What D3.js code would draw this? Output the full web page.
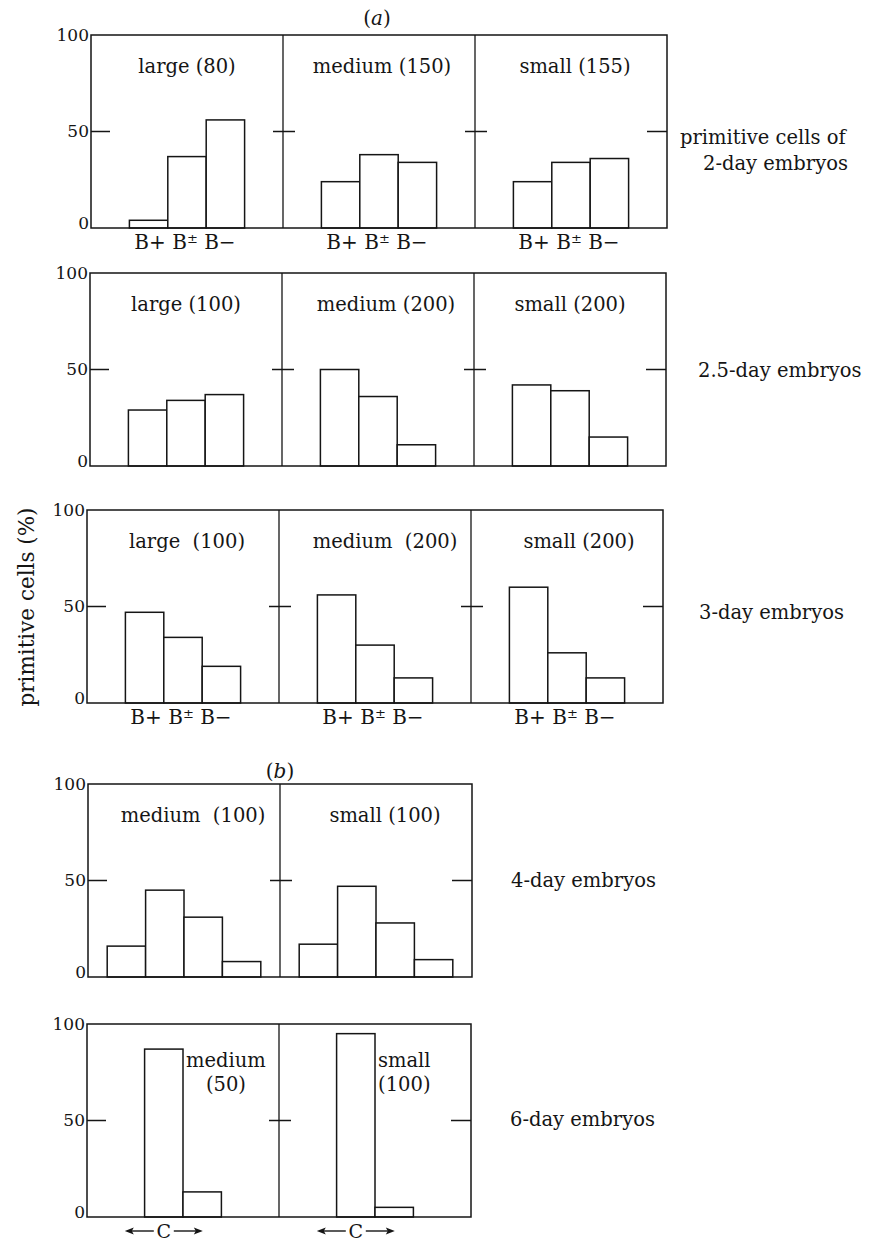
<!DOCTYPE html>
<html>
<head>
<meta charset="utf-8" />
<title>primitive cells</title>
<script src="https://cdn.jsdelivr.net/npm/d3@7"></script>
<style>
body { margin: 0; background: #fff; }
svg text { font-family: "DejaVu Serif", "Liberation Serif", serif; fill: #151515; }
</style>
</head>
<body>
<svg id="chart"></svg>
<script>
/* values: % of primitive cells in each class */
var classesA = ["B+", "B±", "B−"];
var classesB = ["c1", "c2", "c3", "c4"];   // (b): four classes, C marks the middle pair

var day2   = [[4, 37, 56], [24, 38, 34], [24, 34, 36]];
var day2_5 = [[29, 34, 37], [50, 36, 11], [42, 39, 15]];
var day3   = [[47, 34, 19], [56, 30, 13], [60, 26, 13]];
var day4   = [[16, 45, 31, 8], [17, 47, 28, 9]];
var day6   = [[0, 87, 13, 0], [0, 95, 5, 0]];

var names2   = ["large (80)", "medium (150)", "small (155)"];
var names2_5 = ["large (100)", "medium (200)", "small (200)"];
var names3   = ["large  (100)", "medium  (200)", "small (200)"];
var names4   = ["medium  (100)", "small (100)"];
var names6   = [["medium", "(50)"], ["small", "(100)"]];

var rowTitles = [["primitive cells of", "2-day embryos"], ["2.5-day embryos"], ["3-day embryos"], ["4-day embryos"], ["6-day embryos"]];
var yTicks = [0, 50, 100];
var yTitle = "primitive cells (%)";

/* layout */
var width = 873, height = 1241;
var pw = 192, ph = 193;
var fs = 19.5;

var rows = [
	{ data: day2,   names: names2,   cats: classesA, title: rowTitles[0], top: 35,   left: 91, tx: [680, 703], ty: [144, 170], nameDx: [0, 3, 4],  under: "cats" },
	{ data: day2_5, names: names2_5, cats: classesA, title: rowTitles[1], top: 273,  left: 90, tx: [698],      ty: [377],      nameDx: [0, 8, 0],  under: null },
	{ data: day3,   names: names3,   cats: classesA, title: rowTitles[2], top: 510,  left: 87, tx: [699],      ty: [619],      nameDx: [4, 10, 12], under: "cats" },
	{ data: day4,   names: names4,   cats: classesB, title: rowTitles[3], top: 784,  left: 88, tx: [511],      ty: [887],      nameDx: [9, 9],     under: null },
	{ data: day6,   names: names6,   cats: classesB, title: rowTitles[4], top: 1024, left: 87, tx: [510],      ty: [1126],     nameDx: [0, 0],     under: "C" }
];

var svg = d3.select("#chart")
	.attr("width", width)
	.attr("height", height)
	.style("background", "#fff");

var y = d3.scaleLinear().domain([0, 100]).range([ph, 0]);

function arrow(g, x1, x2, yy) {
	var dir = x2 > x1 ? 1 : -1;
	g.append("line").attr("x1", x1).attr("x2", x2 - dir * 6).attr("y1", yy).attr("y2", yy)
		.attr("stroke", "#151515").attr("stroke-width", 1.4);
	g.append("path")
		.attr("d", "M" + x2 + "," + yy + "L" + (x2 - dir * 9) + "," + (yy - 3.5) + "L" + (x2 - dir * 7) + "," + yy + "L" + (x2 - dir * 9) + "," + (yy + 3.5) + "Z")
		.attr("fill", "#151515");
}

rows.forEach(function(row) {
	var n = row.data.length;
	var g = svg.append("g").attr("transform", "translate(" + row.left + "," + row.top + ")");

	var x = d3.scaleBand()
		.domain(row.cats)
		.range([0, pw])
		.paddingInner(0)
		.paddingOuter(row.cats.length === 3 ? 1 : 0.5);
	var bw = x.bandwidth();

	row.data.forEach(function(vals, p) {
		var pg = g.append("g").attr("transform", "translate(" + (p * pw) + ",0)");

		pg.selectAll("rect.bar")
			.data(vals.map(function(v, i) { return { c: row.cats[i], v: v }; }).filter(function(d) { return d.v > 0; }))
			.enter().append("rect")
			.attr("class", "bar")
			.attr("x", function(d) { return x(d.c); })
			.attr("y", function(d) { return y(d.v); })
			.attr("width", bw)
			.attr("height", function(d) { return ph - y(d.v); })
			.attr("fill", "#fff")
			.attr("stroke", "#151515")
			.attr("stroke-width", 1.5);

		// panel name
		var nm = row.names[p];
		if (typeof nm === "string") {
			pg.append("text")
				.attr("x", pw / 2 + row.nameDx[p])
				.attr("y", 38)
				.attr("text-anchor", "middle")
				.style("font-size", fs + "px")
				.style("white-space", "pre")
				.text(nm);
		} else {
			var x0 = x(row.cats[1]) + bw + 3;
			var t1 = pg.append("text").attr("x", x0).attr("y", 43).style("font-size", fs + "px").text(nm[0]);
			var w1 = t1.node().getComputedTextLength();
			pg.append("text").attr("x", x0 + w1 / 2).attr("y", 67).attr("text-anchor", "middle").style("font-size", fs + "px").text(nm[1]);
		}

		// labels under the bars
		if (row.under === "cats") {
			var lab = pg.append("text")
				.attr("x", x(row.cats[1]) + bw / 2 - 2)
				.attr("y", ph + 21)
				.attr("text-anchor", "middle")
				.style("font-size", "20px");
			var lift = 0;
			row.cats.forEach(function(c, i) {
				lab.append("tspan").attr("dy", -lift).text((i ? " " : "") + c[0]);
				lift = 0;
				if (c[1] === "±") {
					lab.append("tspan").attr("dy", -6).style("font-size", "13px").text("±");
					lift = -6;
				} else {
					lab.append("tspan").text(c.slice(1));
				}
			});
		} else if (row.under === "C") {
			var cx = x(row.cats[1]) + bw / 2;
			pg.append("text")
				.attr("x", cx)
				.attr("y", ph + 21)
				.attr("text-anchor", "middle")
				.style("font-size", "19px")
				.text("C");
			arrow(pg, cx - 10, cx - 39, ph + 14);
			arrow(pg, cx + 10, cx + 39, ph + 14);
		}
	});

	// frame and dividers
	var fw = n * pw;
	g.append("rect")
		.attr("width", fw).attr("height", ph)
		.attr("fill", "none").attr("stroke", "#151515").attr("stroke-width", 1.5);
	for (var k = 1; k < n; k++) {
		g.append("line")
			.attr("x1", k * pw).attr("x2", k * pw)
			.attr("y1", 0).attr("y2", ph)
			.attr("stroke", "#151515").attr("stroke-width", 1.3);
	}

	// 50 % ticks: inward on the outer edges, across the dividers
	var t50 = y(50);
	var tick = function(a, b) {
		g.append("line").attr("x1", a).attr("x2", b).attr("y1", t50).attr("y2", t50)
			.attr("stroke", "#151515").attr("stroke-width", 1.5);
	};
	tick(0, 19);
	for (k = 1; k < n; k++) tick(k * pw - 10, k * pw + 12);
	tick(fw - 20, fw);

	// y axis numbers
	var ax = g.append("g").call(d3.axisLeft(y).tickValues(yTicks).tickSize(0).tickPadding(2));
	ax.select(".domain").remove();
	ax.selectAll("text")
		.style("font-family", "'DejaVu Serif', serif")
		.style("font-size", "17px")
		.attr("fill", "#151515")
		.attr("dy", function(d) { return d === 0 ? "0em" : "0.32em"; });

	// row title at the right
	row.title.forEach(function(t, i) {
		svg.append("text")
			.attr("x", row.tx[i])
			.attr("y", row.ty[i])
			.style("font-size", fs + "px")
			.text(t);
	});
});

// part letters
function partLabel(letter, cx, by) {
	var t = svg.append("text").attr("x", cx).attr("y", by).attr("text-anchor", "middle").style("font-size", "20px");
	t.append("tspan").text("(");
	t.append("tspan").style("font-style", "italic").text(letter);
	t.append("tspan").text(")");
}
partLabel("a", 377, 25);
partLabel("b", 280, 778);

// y title
svg.append("text")
	.attr("transform", "translate(34,607) rotate(-90)")
	.attr("text-anchor", "middle")
	.style("font-size", "21.5px")
	.text(yTitle);
</script>
</body>
</html>
